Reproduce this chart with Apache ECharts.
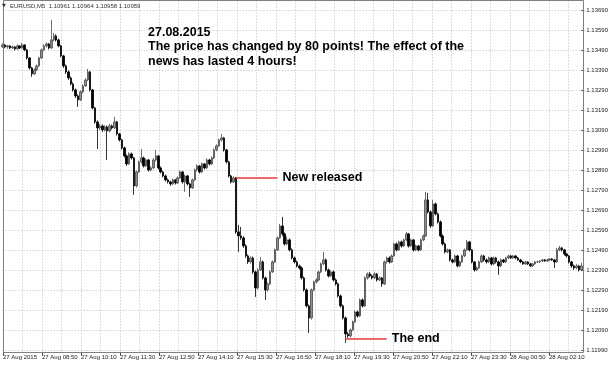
<!DOCTYPE html>
<html><head><meta charset="utf-8">
<script src="https://cdn.jsdelivr.net/npm/echarts@6/dist/echarts.min.js"></script>
<style>html,body{margin:0;padding:0;background:#fff}#c{width:611px;height:368px}</style>
</head><body><div id="c"></div>
<script>
const symbolTitle = "EURUSD,M5  1.10961 1.10964 1.10958 1.10959";
const noteLines = ["27.08.2015", "The price has changed by 80 points! The effect of the", "news has lasted 4 hours!"];
const xTickLabels = ["27 Aug 2015","27 Aug 08:50","27 Aug 10:10","27 Aug 11:30","27 Aug 12:50","27 Aug 14:10","27 Aug 15:30","27 Aug 16:50","27 Aug 18:10","27 Aug 19:30","27 Aug 20:50","27 Aug 22:10","27 Aug 23:30","28 Aug 00:50","28 Aug 02:10"];
const newsLine = [96, 113, 1.12857];   // [from bar, to bar, price]
const endLine = [141, 158, 1.12049];
const newsText = "New released";
const endText = "The end";

const barOpen = [
1.13509,1.13519,1.13509,1.13514,1.13504,1.13509,1.13499,1.13514,1.13504,1.13519,
1.13494,1.13454,1.13404,1.13374,1.13394,1.13414,1.13454,1.13494,1.13514,1.13524,
1.13504,1.13544,1.13564,1.13544,1.13514,1.13464,1.13414,1.13384,1.13354,1.13324,
1.13294,1.13264,1.13244,1.13284,1.13314,1.13344,1.13384,1.13294,1.13204,1.13134,
1.13104,1.13114,1.13094,1.13109,1.13089,1.13114,1.13104,1.13134,1.13074,1.13044,
1.13004,1.12964,1.12924,1.12974,1.12954,1.12814,1.12884,1.12934,1.12954,1.12914,
1.12944,1.12894,1.12904,1.12944,1.12964,1.12904,1.12884,1.12864,1.12844,1.12834,
1.12824,1.12844,1.12829,1.12854,1.12884,1.12834,1.12864,1.12824,1.12804,1.12844,
1.12894,1.12914,1.12884,1.12924,1.12904,1.12944,1.12924,1.12954,1.12994,1.13014,
1.13044,1.13054,1.12994,1.12934,1.12864,1.12834,1.12854,1.12584,1.12564,1.12554,
1.12514,1.12464,1.12434,1.12454,1.12384,1.12304,1.12394,1.12434,1.12354,1.12294,
1.12324,1.12384,1.12434,1.12494,1.12554,1.12614,1.12574,1.12524,1.12544,1.12494,
1.12454,1.12434,1.12414,1.12404,1.12354,1.12294,1.12214,1.12154,1.12294,1.12334,
1.12344,1.12384,1.12424,1.12444,1.12394,1.12364,1.12384,1.12344,1.12324,1.12264,
1.12214,1.12154,1.12074,1.12064,1.12094,1.12134,1.12184,1.12164,1.12244,1.12214,
1.12354,1.12374,1.12364,1.12354,1.12374,1.12344,1.12354,1.12324,1.12434,1.12454,
1.12434,1.12464,1.12524,1.12494,1.12534,1.12514,1.12544,1.12574,1.12514,1.12544,
1.12494,1.12514,1.12494,1.12544,1.12564,1.12744,1.12684,1.12614,1.12724,1.12674,
1.12634,1.12564,1.12524,1.12484,1.12494,1.12444,1.12434,1.12464,1.12414,1.12434,
1.12464,1.12494,1.12534,1.12494,1.12434,1.12394,1.12404,1.12434,1.12464,1.12444,
1.12434,1.12454,1.12424,1.12454,1.12434,1.12414,1.12444,1.12434,1.12454,1.12464,
1.12454,1.12464,1.12454,1.12444,1.12434,1.12424,1.12434,1.12424,1.12414,1.12424,
1.12434,1.12434,1.12439,1.12444,1.12439,1.12444,1.12449,1.12444,1.12434,1.12494,
1.12504,1.12494,1.12474,1.12464,1.12434,1.12414,1.12404,1.12414,1.12394];

const barClose = [
1.13519,1.13509,1.13514,1.13504,1.13509,1.13499,1.13514,1.13504,1.13519,1.13494,
1.13454,1.13404,1.13374,1.13394,1.13414,1.13454,1.13494,1.13514,1.13524,1.13504,
1.13544,1.13564,1.13544,1.13514,1.13464,1.13414,1.13384,1.13354,1.13324,1.13294,
1.13264,1.13244,1.13284,1.13314,1.13344,1.13384,1.13294,1.13204,1.13134,1.13104,
1.13114,1.13094,1.13109,1.13089,1.13114,1.13104,1.13134,1.13074,1.13044,1.13004,
1.12964,1.12924,1.12974,1.12954,1.12814,1.12884,1.12934,1.12954,1.12914,1.12944,
1.12894,1.12904,1.12944,1.12964,1.12904,1.12884,1.12864,1.12844,1.12834,1.12824,
1.12844,1.12829,1.12854,1.12884,1.12834,1.12864,1.12824,1.12804,1.12844,1.12894,
1.12914,1.12884,1.12924,1.12904,1.12944,1.12924,1.12954,1.12994,1.13014,1.13044,
1.13054,1.12994,1.12934,1.12864,1.12834,1.12854,1.12584,1.12564,1.12554,1.12514,
1.12464,1.12434,1.12454,1.12384,1.12304,1.12394,1.12434,1.12354,1.12294,1.12324,
1.12384,1.12434,1.12494,1.12554,1.12614,1.12574,1.12524,1.12544,1.12494,1.12454,
1.12434,1.12414,1.12404,1.12354,1.12294,1.12214,1.12154,1.12294,1.12334,1.12344,
1.12384,1.12424,1.12444,1.12394,1.12364,1.12384,1.12344,1.12324,1.12264,1.12214,
1.12154,1.12074,1.12064,1.12094,1.12134,1.12184,1.12164,1.12244,1.12214,1.12354,
1.12374,1.12364,1.12354,1.12374,1.12344,1.12354,1.12324,1.12434,1.12454,1.12434,
1.12464,1.12524,1.12494,1.12534,1.12514,1.12544,1.12574,1.12514,1.12544,1.12494,
1.12514,1.12494,1.12544,1.12564,1.12744,1.12684,1.12614,1.12724,1.12674,1.12634,
1.12564,1.12524,1.12484,1.12494,1.12444,1.12434,1.12464,1.12414,1.12434,1.12464,
1.12494,1.12534,1.12494,1.12434,1.12394,1.12404,1.12434,1.12464,1.12444,1.12434,
1.12454,1.12424,1.12454,1.12434,1.12414,1.12444,1.12434,1.12454,1.12464,1.12454,
1.12464,1.12454,1.12444,1.12434,1.12424,1.12434,1.12424,1.12414,1.12424,1.12434,
1.12434,1.12439,1.12444,1.12439,1.12444,1.12449,1.12444,1.12434,1.12494,1.12504,
1.12494,1.12474,1.12464,1.12434,1.12414,1.12404,1.12414,1.12394,1.12414];

const barLow = [
1.13504,1.13502,1.13500,1.13497,1.13499,1.13492,1.13496,1.13498,1.13500,1.13488,
1.13446,1.13396,1.13359,1.13369,1.13388,1.13409,1.13449,1.13489,1.13506,1.13497,
1.13499,1.13538,1.13536,1.13507,1.13457,1.13404,1.13374,1.13344,1.13316,1.13286,
1.13254,1.13209,1.13239,1.13277,1.13309,1.13338,1.13286,1.13196,1.13124,1.12999,
1.13094,1.13084,1.13086,1.12944,1.13082,1.13096,1.13099,1.13066,1.13036,1.12996,
1.12956,1.12914,1.12919,1.12946,1.12769,1.12806,1.12879,1.12926,1.12906,1.12909,
1.12886,1.12887,1.12899,1.12937,1.12896,1.12876,1.12856,1.12836,1.12826,1.12814,
1.12818,1.12821,1.12824,1.12849,1.12826,1.12784,1.12816,1.12759,1.12799,1.12839,
1.12887,1.12876,1.12879,1.12896,1.12899,1.12916,1.12919,1.12949,1.12987,1.13009,
1.13036,1.12986,1.12926,1.12856,1.12826,1.12829,1.12574,1.12484,1.12544,1.12504,
1.12454,1.12424,1.12426,1.12374,1.12259,1.12296,1.12389,1.12346,1.12244,1.12286,
1.12318,1.12379,1.12429,1.12489,1.12549,1.12564,1.12516,1.12518,1.12486,1.12446,
1.12426,1.12406,1.12396,1.12346,1.12286,1.12206,1.12079,1.12146,1.12288,1.12326,
1.12338,1.12378,1.12418,1.12386,1.12356,1.12358,1.12336,1.12316,1.12256,1.12206,
1.12146,1.12029,1.12054,1.12056,1.12089,1.12129,1.12156,1.12159,1.12206,1.12209,
1.12346,1.12356,1.12346,1.12348,1.12336,1.12338,1.12309,1.12319,1.12426,1.12426,
1.12429,1.12459,1.12486,1.12489,1.12506,1.12509,1.12538,1.12506,1.12508,1.12486,
1.12488,1.12486,1.12489,1.12538,1.12559,1.12676,1.12604,1.12608,1.12666,1.12626,
1.12556,1.12516,1.12476,1.12478,1.12436,1.12426,1.12429,1.12406,1.12408,1.12429,
1.12459,1.12489,1.12486,1.12426,1.12386,1.12388,1.12398,1.12429,1.12436,1.12426,
1.12428,1.12416,1.12418,1.12426,1.12369,1.12408,1.12428,1.12429,1.12448,1.12449,
1.12449,1.12448,1.12439,1.12428,1.12419,1.12419,1.12418,1.12409,1.12409,1.12419,
1.12429,1.12429,1.12434,1.12434,1.12434,1.12439,1.12439,1.12404,1.12429,1.12488,
1.12486,1.12466,1.12456,1.12426,1.12404,1.12394,1.12398,1.12386,1.12388];

const barHigh = [
1.13527,1.13524,1.13519,1.13517,1.13516,1.13512,1.13521,1.13518,1.13529,1.13522,
1.13499,1.13458,1.13409,1.13402,1.13421,1.13459,1.13501,1.13522,1.13532,1.13529,
1.13644,1.13579,1.13572,1.13550,1.13519,1.13469,1.13421,1.13392,1.13361,1.13332,
1.13301,1.13272,1.13292,1.13321,1.13352,1.13399,1.13389,1.13299,1.13209,1.13142,
1.13124,1.13121,1.13117,1.13116,1.13124,1.13121,1.13159,1.13139,1.13079,1.13049,
1.13011,1.12971,1.12982,1.12981,1.12959,1.12891,1.12941,1.12999,1.12961,1.12951,
1.12949,1.12912,1.12952,1.12994,1.12969,1.12911,1.12889,1.12871,1.12851,1.12840,
1.12852,1.12849,1.12862,1.12891,1.12889,1.12871,1.12869,1.12830,1.12851,1.12901,
1.12922,1.12919,1.12931,1.12929,1.12951,1.12949,1.12961,1.13001,1.13022,1.13051,
1.13074,1.13059,1.12999,1.12939,1.12869,1.12862,1.12859,1.12619,1.12609,1.12562,
1.12522,1.12471,1.12462,1.12461,1.12391,1.12401,1.12459,1.12441,1.12361,1.12331,
1.12391,1.12441,1.12501,1.12562,1.12624,1.12659,1.12581,1.12561,1.12551,1.12501,
1.12461,1.12441,1.12421,1.12411,1.12361,1.12301,1.12221,1.12301,1.12341,1.12352,
1.12391,1.12431,1.12484,1.12451,1.12401,1.12391,1.12391,1.12351,1.12331,1.12271,
1.12221,1.12161,1.12084,1.12101,1.12141,1.12191,1.12191,1.12251,1.12251,1.12361,
1.12381,1.12384,1.12371,1.12381,1.12379,1.12361,1.12359,1.12441,1.12461,1.12461,
1.12471,1.12531,1.12531,1.12541,1.12541,1.12551,1.12584,1.12579,1.12551,1.12549,
1.12521,1.12519,1.12551,1.12571,1.12784,1.12779,1.12691,1.12744,1.12731,1.12681,
1.12641,1.12571,1.12531,1.12501,1.12499,1.12451,1.12471,1.12469,1.12441,1.12471,
1.12501,1.12544,1.12539,1.12499,1.12439,1.12411,1.12441,1.12471,1.12469,1.12451,
1.12461,1.12459,1.12461,1.12459,1.12441,1.12451,1.12449,1.12459,1.12469,1.12469,
1.12468,1.12468,1.12459,1.12449,1.12439,1.12439,1.12438,1.12429,1.12429,1.12439,
1.12439,1.12443,1.12448,1.12448,1.12449,1.12453,1.12453,1.12449,1.12504,1.12514,
1.12509,1.12499,1.12479,1.12469,1.12439,1.12421,1.12424,1.12419,1.12429];

// M5 bar times, first bar 27 Aug 07:30
const categories = barOpen.map((_, i) => {
  const m = 7 * 60 + 30 + 5 * i;
  const day = m >= 1440 ? 28 : 27;
  const mm = m % 1440;
  return day + ' Aug ' + String(Math.floor(mm / 60)).padStart(2, '0') + ':' + String(mm % 60).padStart(2, '0');
});
const candles = barOpen.map((o, i) => [o, barClose[i], barLow[i], barHigh[i]]);

const chart = echarts.init(document.getElementById('c'), null, {renderer: 'canvas'});
const gridDash = {color: '#bdbdbd', type: [1, 2], width: 1};
const small = {fontFamily: 'Liberation Sans', fontSize: 6, color: '#222'};
const lblFont = {fontFamily: 'Liberation Sans', fontSize: 12.5, fontWeight: 'bold', color: '#000'};
const noteFont = 'bold 12.5px "Liberation Sans"';

chart.setOption({
  animation: false,
  backgroundColor: '#fff',
  grid: [
    {left: 2.7, right: 28, top: 0.5, bottom: 15.5},
    {left: 2.7, right: 28, top: 10.7, height: 340}
  ],
  xAxis: [
    {type: 'category', gridIndex: 0, data: categories, boundaryGap: false,
     axisLine: {show: false},
     axisTick: {show: true, interval: 15, length: 3, lineStyle: {color: '#444'}},
     axisLabel: Object.assign({interval: 15, margin: 2, align: 'left',
       formatter: (v, idx) => xTickLabels[Math.round(idx / 16)] || ''}, small),
     splitLine: {show: true, interval: 7, lineStyle: gridDash}},
    {type: 'category', gridIndex: 1, data: categories, boundaryGap: false, show: false}
  ],
  yAxis: [
    {type: 'value', gridIndex: 0, min: 0, max: 1, show: false},
    {type: 'value', gridIndex: 1, position: 'right', min: 1.1199, max: 1.1369, interval: 0.001,
     axisLine: {show: false},
     axisTick: {show: true, length: 3, lineStyle: {color: '#444'}},
     axisLabel: Object.assign({margin: 5, formatter: v => v.toFixed(5)}, small),
     splitLine: {show: true, lineStyle: gridDash}}
  ],
  series: [{
    type: 'candlestick',
    xAxisIndex: 1, yAxisIndex: 1,
    data: candles,
    barWidth: 2,
    itemStyle: {color: '#8e8e8e', color0: '#000', borderColor: '#4a4a4a', borderColor0: '#000', borderWidth: 0.8},
    markLine: {
      symbol: 'none', silent: true,
      lineStyle: {color: '#e8383d', width: 1.5, type: 'solid'},
      label: Object.assign({show: true, position: 'end', distance: 5}, lblFont),
      data: [
        [{coord: [newsLine[0], newsLine[2]], label: {formatter: newsText}}, {coord: [newsLine[1], newsLine[2]]}],
        [{coord: [endLine[0], endLine[2]], label: {formatter: endText}}, {coord: [endLine[1], endLine[2]]}]
      ]
    }
  }],
  graphic: [
    {type: 'rect', z: 100, silent: true, shape: {x: 3.5, y: 0.5, width: 580, height: 352},
     style: {fill: 'none', stroke: '#808080', lineWidth: 1}},
    {type: 'text', z: 100, left: 2, top: 3.5, style: {text: '▼', font: '5px "DejaVu Sans"', fill: '#333'}},
    {type: 'text', z: 100, left: 10, top: 3, style: {text: symbolTitle, font: '6px "Liberation Sans"', fill: '#333'}},
    {type: 'text', z: 100, left: 148, top: 26, style: {text: noteLines[0], font: noteFont, fill: '#000'}},
    {type: 'text', z: 100, left: 148, top: 40, style: {text: noteLines[1], font: noteFont, fill: '#000'}},
    {type: 'text', z: 100, left: 148, top: 55, style: {text: noteLines[2], font: noteFont, fill: '#000'}}
  ]
});
</script></body></html>
